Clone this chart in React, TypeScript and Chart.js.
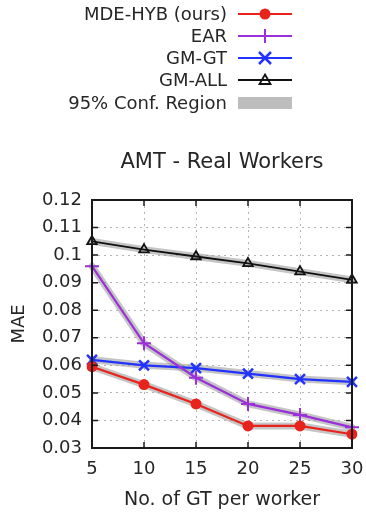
import React, { useEffect, useRef } from "react";
import { Chart, registerables } from "chart.js";

Chart.register(...registerables);

const xCategories = ["5", "10", "15", "20", "25", "30"];
const yTicks = [0.03, 0.04, 0.05, 0.06, 0.07, 0.08, 0.09, 0.1, 0.11, 0.12];

const mdeHyb = [0.0595, 0.053, 0.046, 0.038, 0.038, 0.035];
const ear = [0.096, 0.068, 0.0555, 0.046, 0.042, 0.0375];
const gmGt = [0.062, 0.060, 0.059, 0.057, 0.055, 0.054];
const gmAll = [0.105, 0.102, 0.0995, 0.097, 0.094, 0.091];

const seriesNames = ["MDE-HYB (ours)", "EAR", "GM-GT", "GM-ALL"];
const confLabel = "95% Conf. Region";
const chartTitle = "AMT - Real Workers";

const RED = "#e8231b";
const PURPLE = "#9b2fd9";
const BLUE = "#2233ff";
const BLACK = "#111111";
const BAND = "rgba(150,150,150,0.55)";
const TEXT = "#262626";
const FONT = "'DejaVu Sans', sans-serif";

const framePlugin = {
  id: "frame",
  afterDraw(chart: any) {
    const { ctx, chartArea: a, scales } = chart;
    const xs = scales.x;
    const ys = scales.y;
    ctx.save();
    ctx.strokeStyle = "#1a1a1a";
    ctx.lineWidth = 1.5;
    const L = 6;
    ctx.beginPath();
    for (let i = 0; i < xCategories.length; i++) {
      const px = xs.getPixelForValue(i);
      ctx.moveTo(px, a.bottom);
      ctx.lineTo(px, a.bottom - L);
      ctx.moveTo(px, a.top);
      ctx.lineTo(px, a.top + L);
    }
    for (const v of yTicks) {
      const py = ys.getPixelForValue(v);
      ctx.moveTo(a.left, py);
      ctx.lineTo(a.left + L, py);
      ctx.moveTo(a.right, py);
      ctx.lineTo(a.right - L, py);
    }
    ctx.stroke();
    ctx.lineWidth = 2;
    ctx.strokeRect(a.left, a.top, a.right - a.left, a.bottom - a.top);
    // title centred over the plot area
    ctx.fillStyle = TEXT;
    ctx.font = "21px " + FONT;
    ctx.textAlign = "center";
    ctx.textBaseline = "middle";
    ctx.fillText(chartTitle, (a.left + a.right) / 2, a.top - 37);
    ctx.restore();
  },
};

function LegendSample({ kind }: { kind: number }) {
  const w = 54;
  const h = 20;
  const cy = h / 2;
  const mx = w / 2;
  if (kind === 4) {
    return (
      <svg width={w} height={h}>
        <rect x={0} y={cy - 6} width={w} height={12} fill="#bdbdbd" />
      </svg>
    );
  }
  const color = [RED, PURPLE, BLUE, BLACK][kind];
  let marker: any = null;
  if (kind === 0) marker = <circle cx={mx} cy={cy} r={5.5} fill={color} />;
  if (kind === 1)
    marker = (
      <path d={`M${mx} ${cy - 7}V${cy + 7}M${mx - 7} ${cy}H${mx + 7}`} stroke={color} strokeWidth={2} />
    );
  if (kind === 2)
    marker = (
      <path d={`M${mx - 6} ${cy - 6}L${mx + 6} ${cy + 6}M${mx - 6} ${cy + 6}L${mx + 6} ${cy - 6}`} stroke={color} strokeWidth={2.5} />
    );
  if (kind === 3)
    marker = (
      <path d={`M${mx} ${cy - 5.5}L${mx + 5.5} ${cy + 4}L${mx - 5.5} ${cy + 4}Z`} stroke={color} strokeWidth={1.8} fill="none" />
    );
  return (
    <svg width={w} height={h}>
      <line x1={0} y1={cy} x2={w} y2={cy} stroke={color} strokeWidth={2} />
      {marker}
    </svg>
  );
}

export default function App() {
  const ref = useRef<HTMLCanvasElement>(null);

  useEffect(() => {
    if (!ref.current) return;
    const band = (data: number[]) => ({
      label: "band",
      data,
      borderColor: BAND,
      borderWidth: 7,
      pointRadius: 0,
      fill: false,
      order: 10,
      borderJoinStyle: "round" as const,
      borderCapStyle: "round" as const,
    });
    const chart = new Chart(ref.current, {
      type: "line",
      data: {
        labels: xCategories,
        datasets: [
          band(gmAll),
          band(gmGt),
          band(ear),
          band(mdeHyb),
          {
            label: seriesNames[3],
            data: gmAll,
            borderColor: BLACK,
            borderWidth: 1.8,
            pointStyle: "triangle",
            pointRadius: 5.5,
            pointBorderWidth: 1.8,
            pointBackgroundColor: "rgba(0,0,0,0)",
            pointBorderColor: BLACK,
            order: 4,
          },
          {
            label: seriesNames[2],
            data: gmGt,
            borderColor: BLUE,
            borderWidth: 2.2,
            pointStyle: "crossRot",
            pointRadius: 7,
            pointBorderWidth: 2.5,
            pointBorderColor: BLUE,
            order: 3,
          },
          {
            label: seriesNames[1],
            data: ear,
            borderColor: PURPLE,
            borderWidth: 2.2,
            pointStyle: "cross",
            pointRadius: 7,
            pointBorderWidth: 2,
            pointBorderColor: PURPLE,
            order: 2,
          },
          {
            label: seriesNames[0],
            data: mdeHyb,
            borderColor: RED,
            borderWidth: 2.2,
            pointStyle: "circle",
            pointRadius: 5.5,
            pointBorderWidth: 0,
            pointBackgroundColor: RED,
            order: 1,
          },
        ],
      },
      options: {
        animation: false,
        responsive: false,
        maintainAspectRatio: false,
        layout: { padding: { left: 0, right: 14, top: 200, bottom: 0 } },
        plugins: {
          legend: { display: false },
          tooltip: { enabled: false },
          title: { display: false },
        },
        scales: {
          x: {
            type: "category",
            offset: false,
            grid: {
              display: true,
              drawTicks: false,
              color: "rgba(160,160,160,0.8)",
              lineWidth: 1,
            },
            border: { display: false, dash: [2, 4] },
            ticks: {
              color: TEXT,
              font: { family: FONT, size: 18 },
              padding: 10.2,
              maxRotation: 0,
              autoSkip: false,
            },
            title: {
              display: true,
              text: "No. of GT per worker",
              color: TEXT,
              font: { family: FONT, size: 19 },
              padding: { top: 0, bottom: 4.6 },
            },
            afterFit(scale: any) {
              scale.height = 68;
              scale.paddingLeft = 0;
              scale.paddingRight = 0;
            },
          },
          y: {
            type: "linear",
            min: 0.03,
            max: 0.12,
            afterBuildTicks(scale: any) {
              scale.ticks = yTicks.map((v) => ({ value: v }));
            },
            grid: {
              display: true,
              drawTicks: false,
              color: "rgba(160,160,160,0.8)",
              lineWidth: 1,
            },
            border: { display: false, dash: [2, 4] },
            ticks: {
              color: TEXT,
              font: { family: FONT, size: 18 },
              padding: 10,
              callback: (v: any) => String(v),
            },
            title: {
              display: true,
              text: "MAE",
              color: TEXT,
              font: { family: FONT, size: 18 },
              padding: { top: 9, bottom: 0 },
            },
            afterFit(scale: any) {
              scale.width = 92;
              scale.paddingTop = 0;
              scale.paddingBottom = 0;
            },
          },
        },
      },
      plugins: [framePlugin],
    });
    return () => chart.destroy();
  }, []);

  const rows = [...seriesNames, confLabel];
  const rowY = [14, 36, 58, 80, 103];

  return (
    <div style={{ position: "fixed", left: 0, top: 0, width: 366, height: 516, background: "#fff" }}>
      <canvas ref={ref} width={366} height={516} style={{ position: "absolute", left: 0, top: 0, width: 366, height: 516 }} />
      {rows.map((name, i) => (
        <div key={name}>
          <div
            style={{
              position: "absolute",
              right: 366 - 227,
              top: rowY[i] - 12,
              height: 24,
              lineHeight: "24px",
              fontFamily: FONT,
              fontSize: 18,
              color: TEXT,
              whiteSpace: "nowrap",
              textAlign: "right",
            }}
          >
            {name}
          </div>
          <div style={{ position: "absolute", left: 238, top: rowY[i] - 10, width: 54, height: 20 }}>
            <LegendSample kind={i} />
          </div>
        </div>
      ))}
    </div>
  );
}
